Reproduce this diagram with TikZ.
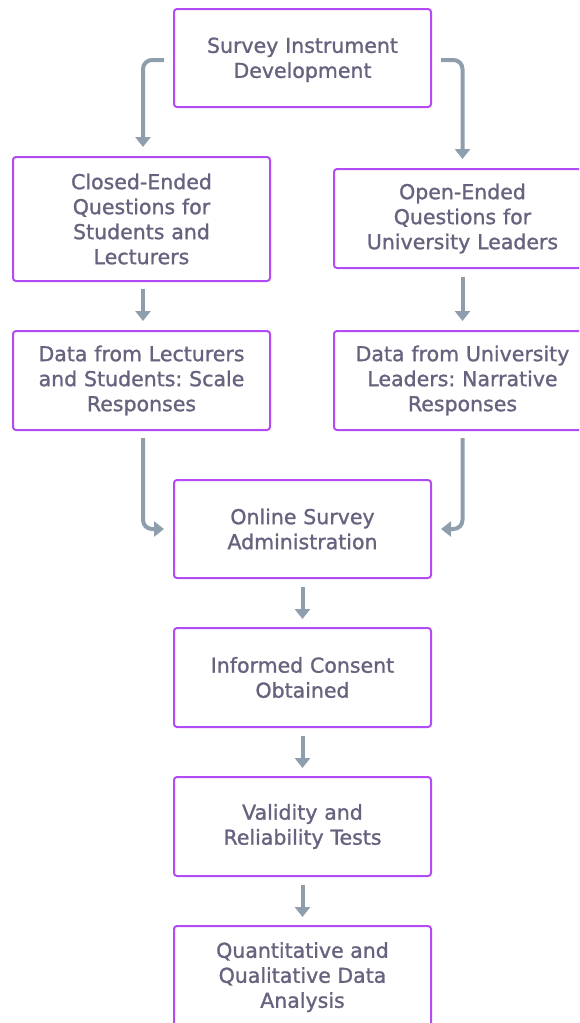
\documentclass[tikz,border=0pt]{standalone}
\usepackage{fontspec}
\setmainfont{DejaVu Sans}[FakeBold=1.2]
\frenchspacing
\usetikzlibrary{arrows.meta}
\definecolor{boxline}{HTML}{B24BF3}
\definecolor{boxtext}{HTML}{67637F}
\definecolor{flow}{HTML}{8E9EAC}
\tikzset{
  stepbox/.style={draw=boxline, line width=2pt, rounded corners=3pt, fill=white,
    minimum width=257pt, text width=245pt, align=center, inner sep=0pt,
    text=boxtext, font=\fontsize{20.5}{25}\selectfont},
  flowline/.style={draw=flow, line width=4pt, rounded corners=9pt,
    -{Triangle[length=10pt,width=15pt]}},
}
\begin{document}
\begin{tikzpicture}[x=1pt,y=-1pt]
\useasboundingbox (0,0) rectangle (579,1023);
\begin{scope}
\clip (0,0) rectangle (579,1023);
\node[stepbox, minimum height=98pt] (dev) at (302.5,58) {\vphantom{Ag}\\[-21pt]Survey Instrument\\Development};
\node[stepbox, minimum height=124pt] (closed) at (141.5,219) {Closed-Ended\\Questions for\\Students and\\Lecturers};
\node[stepbox, minimum height=99pt] (open) at (462.5,218.5) {Open-Ended\\Questions for\\University Leaders};
\node[stepbox, minimum height=99pt] (datal) at (141.5,380.5) {Data from Lecturers\\and Students: Scale\\Responses};
\node[stepbox, minimum height=99pt] (datau) at (462.5,380.5) {Data from University\\Leaders: Narrative\\Responses};
\node[stepbox, minimum height=98pt] (online) at (302.5,529) {Online Survey\\Administration};
\node[stepbox, minimum height=99pt] (consent) at (302.5,677.5) {Informed Consent\\Obtained};
\node[stepbox, minimum height=99pt] (valid) at (302.5,826.5) {Validity and\\Reliability Tests};
\node[stepbox, minimum height=124pt] (analysis) at (302.5,988) {};
\node[text=boxtext, font=\fontsize{20.5}{25}\selectfont, align=center, anchor=north, inner sep=0pt] (analysistext) at (302.5,942) {Quantitative and\\Qualitative Data\\Analysis};

\draw[flowline] ([xshift=-9pt,yshift=-2pt]dev.west) -| ([xshift=1.5pt,yshift=9pt]closed.north);
\draw[flowline] ([xshift=9pt,yshift=-2pt]dev.east) -| ([yshift=9pt]open.north);
\draw[flowline] ([xshift=1.5pt,yshift=-7pt]closed.south) -- ([xshift=1.5pt,yshift=9pt]datal.north);
\draw[flowline] ([yshift=-8pt]open.south) -- ([yshift=9pt]datau.north);
\draw[flowline] ([xshift=1.5pt,yshift=-7pt]datal.south) |- ([xshift=-9pt]online.west);
\draw[flowline] ([yshift=-7pt]datau.south) |- ([xshift=9pt]online.east);
\draw[flowline] ([yshift=-8pt]online.south) -- ([yshift=8pt]consent.north);
\draw[flowline] ([yshift=-8pt]consent.south) -- ([yshift=8pt]valid.north);
\draw[flowline] ([yshift=-8pt]valid.south) -- ([yshift=8pt]analysis.north);
\end{scope}
\end{tikzpicture}
\end{document}
